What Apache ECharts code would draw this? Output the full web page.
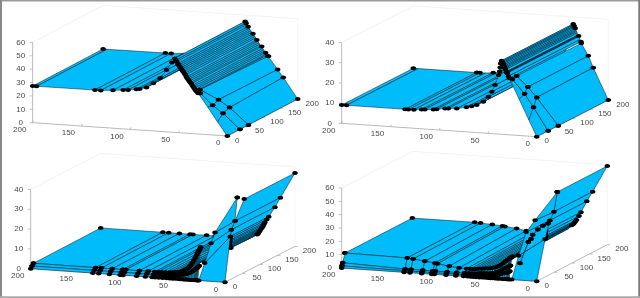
<!DOCTYPE html>
<html><head><meta charset="utf-8">
<script src="https://cdn.jsdelivr.net/npm/echarts@6/dist/echarts.min.js"></script>
<style>html,body{margin:0;background:#fff}#c{width:640px;height:298px;filter:blur(0.55px)}</style></head>
<body><div id="c"></div>
<script>
// tick labels
const xTicks=[0,50,100,150,200], yTicks=[0,50,100,150,200];
const zTicks40=[0,10,20,30,40], zTicks60=[0,10,20,30,40,50,60];

// panel 1 (top left)
const p1X=[200,196,136,130,117.5,107,102,93.5,90,83,76,69,62.5,57,54,53,52,51,50,49,48,47,46,45,44,43,42,41,40,39,38,37,36,35,34,33,32,31,30];
const p1Z=[27.4,27.4,27.6,27.6,28.3,29,29.3,30.2,30.6,32.2,35.6,40,46.2,52,55.3,54,53,51.5,50.5,49.5,48.5,47.5,46.5,45.5,44.5,43.5,42,41,40,39,38,37.3,36,35,34,33,32,31.5,30.5];
const p1BackMarks=[200,136,130,54,53,51,46,42,37,33,30];
const p1TailX=[31,21,14,0], p1TailY=[8,33,45,60], p1TailZ=[32,21.5,14.3,0];
const p1BackX=[30.5,20.6,14.8,0], p1BackZ=[30.5,21,15.4,0];
const p1EdgeX=[30,20,10,0], p1EdgeZ=[30.5,20.5,10,0];
const p1InnerX=[29,20,13,0], p1InnerY=[3.5,14,24,36], p1InnerZ=[30,20,13,0];

// panel 2 (top right)
const p2X=[200,195,135,131.6,126,118,114.7,106,102.6,94,90.6,82,72,66.7,61.5,54.7,49.6,46,42.7,39,38,37.5,37,36,35.5,35,34.5,34,33.5,33,32.5,32,31,30.8,30.6,30.4,30.2,29,28];
const p2Z=[9.1,9.1,9.1,9.1,9.2,9.6,9.7,10,10.2,10.8,11,11.2,12.2,12.9,13.7,15.5,18.2,20.8,24.2,29.3,31,33,35,36.5,36,35.5,35,34.4,33.8,33.3,32.8,32.2,31.2,31,30.8,30.7,30.5,29,28];
const p2BackMarks=[200,135,131.6,118,36,35,34,30.4,28];
const p2TailX=[27.2,20.9,15.1,0], p2TailY=[18,32,41,60], p2TailZ=[27.5,21,15.2,0];
const p2BackX=[27.7,20.5,15.4,0], p2BackZ=[27.2,21.2,15.5,0];
const p2EdgeX=[28,18,8,0], p2EdgeZ=[28,18,8,0];
const p2InnerX=[27,19,12,0], p2InnerY=[6,18,24,32], p2InnerZ=[27,19,12,0];

// panel 3 (bottom left)
const p3X=[200,136,130,119,108,105,91,82,75,72,68,64,60,57,54,51,48,46,44,42.5,41,39.5,38,36.5,35,33.5,32,31,30,29,28];
const p3Row0=[0,0,0,0,0,0,0,0,0,0,0,0,0,0,0,0,0,0,0,0,0,0,0,0,0,0,0,0,0,0,0];
const p3Row4=[1,1,1,1,1,1,1,1,1,1,1,1,1,1.1,1.2,1.3,1.5,1.7,2,2.2,2.5,2.7,3,3.5,4,4.5,5,5.5,6,6.5,7];
const p3Row8=[2,2,2,2,2,2,2,2,2,2,2,2,2.2,2.3,2.5,2.7,3,3.5,4,4.5,5,5.7,6.5,7.7,9,10.5,12,13,14,15,16];
const p3Back=[2.4,2.4,2.4,2.4,2.4,2.4,2.4,2.4,2.5,2.5,2.5,2.5,2.6,2.7,2.8,2.9,3,3.1,3.3,3.6,4,4.6,5.2,6.3,7.5,8.7,10,11,12,12.8,13.5];
const p3BackMarks=[200,136,130,119,108,105,91,82];
const p3RightX=[0,15,20.6,27,29,31,32,33,34,35,36,37,38,39];
const p3RightY=[55,70,75,90,95,100,102,104,106,110,113,116,120,125];
const p3RightZ=[37,24,19,14,12.5,11,10,9,8.2,7.5,6.7,6,5.2,4.6];
const p3LeftX=[27,24.5,22,20,0], p3LeftY=[0,10,21,27,35], p3LeftZ=[0,8,17,22,39.6];
const p3FoldX=[0,27,20.6,15,0], p3FoldY=[0,90,75,70,35], p3FoldZ=[0,14,19,24,39.6];

// panel 4 (bottom right)
const p4X=[200,136,130,118,107.6,105,93,83,75,71,68,65,62,59,56,53,50,47.5,45,42.5,40,37.5,35,33,31,30,29,28];
const p4Row0=[0,0,0,0,0,0,0,0,0,0,0,0,0,0,0,0,0,0,0,0,0,0,0,0,0,0,0,0];
const p4Row1=[1.5,1,1,1,1,1,1,1,1,1,1,1.1,1.2,1.3,1.4,1.5,1.6,1.8,2,2.2,2.5,3.2,4,4.4,4.8,5,5.5,6];
const p4Row3=[3.5,2,2,2,2,2,2,2,2,2,2,2.2,2.4,2.6,2.8,2.9,3,3.2,3.5,4.2,5,6,7,8,8.6,9,9.5,10];
const p4Row9=[10,9.5,9,7.9,7,6.7,5.4,4.6,4.5,4.5,4.5,4.7,5,5.2,5.5,5.7,6,6.5,7,8,9,10.5,12,13.2,14.4,15,15.5,16];
const p4Back=[10,10,9.7,9.3,8.7,8.5,7.6,6.3,6,6,6,6.2,6.5,6.7,7,7.5,8,8.5,9,9.5,10,11.5,13.5,16,18,19,20.5,22];
const p4BackMarks=[200,136,130,118,107.6,105,93,83];
const p4RightX=[0,15,21,27,29,31.6,33,34,35,36.6], p4RightY=[58.5,90,95,100,105,112,115,118,121,125];
const p4RightZ=[59,39,31.5,23,20,17,15.5,14.5,13.5,12.7];
const p4LeftX=[25.6,24,21,15,0], p4LeftY=[0,15,28,37,58.5], p4LeftZ=[0,16,32,40,59];
const p4FoldX=[0,36.6,21,15,0], p4FoldY=[0,125,95,90,58.5], p4FoldZ=[0,12.7,31.5,39,59];
const p4ChainX=[20,18,16,15,12.5,10,21], p4ChainY=[8,26,28,30,38,45,90], p4ChainZ=[11.4,25,27,30,33,35,30];

const BLUE='#00bcfa', INK='#06101a';
const fill=(v,n)=>Array.isArray(v)?v:new Array(n).fill(v);
function sheet(aX,aY,aZ,bX,bY,bZ,o){
  const n=aX.length;
  return Object.assign({aX,aY:fill(aY,n),aZ,bX,bY:fill(bY,n),bZ},o||{});
}
const panels=[
 {grid:[0,0],O:[227.3,136],XE:[32.7,122.7],YE:[297.7,99],zPx:80.3/60,zTicks:zTicks60,
  sheets:[
   sheet(p1X,0,p1Z,p1X,200,p1Z,{markB:p1BackMarks}),
   sheet(p1TailX,p1TailY,p1TailZ,p1BackX,200,p1BackZ),
   sheet(p1EdgeX,0,p1EdgeZ,p1InnerX,p1InnerY,p1InnerZ,{markA:[0]}),
   sheet(p1InnerX,p1InnerY,p1InnerZ,p1TailX,p1TailY,p1TailZ)
  ]},
 {grid:[320,0],O:[216.7,136.7],XE:[21.7,123.3],YE:[288.3,100],zPx:80.7/40,zTicks:zTicks40,
  sheets:[
   sheet(p2X,0,p2Z,p2X,200,p2Z,{markB:p2BackMarks}),
   sheet(p2TailX,p2TailY,p2TailZ,p2BackX,200,p2BackZ),
   sheet(p2EdgeX,0,p2EdgeZ,p2InnerX,p2InnerY,p2InnerZ,{markA:[0]}),
   sheet(p2InnerX,p2InnerY,p2InnerZ,p2TailX,p2TailY,p2TailZ)
  ]},
 {grid:[0,149],O:[225,133.3],XE:[30.7,119.7],YE:[295,97.3],zPx:79.3/40,zTicks:zTicks40,
  sheets:[
   sheet(p3X,8,p3Row8,p3X,200,p3Back,{markB:p3BackMarks}),
   sheet(p3X,4,p3Row4,p3X,8,p3Row8),
   sheet(p3X,0,p3Row0,p3X,4,p3Row4),
   sheet(p3RightX,p3RightY,p3RightZ,p3RightX,200,p3RightZ),
   sheet(p3LeftX,p3LeftY,p3LeftZ,p3FoldX,p3FoldY,p3FoldZ)
  ]},
 {grid:[320,149],O:[216.7,132.3],XE:[21.7,119],YE:[287.3,95.7],zPx:80/60,zTicks:zTicks60,
  sheets:[
   sheet(p4X,9,p4Row9,p4X,200,p4Back,{markB:p4BackMarks}),
   sheet(p4X,3,p4Row3,p4X,9,p4Row9),
   sheet(p4X,1,p4Row1,p4X,3,p4Row3),
   sheet(p4X,0,p4Row0,p4X,1,p4Row1),
   sheet(p4RightX,p4RightY,p4RightZ,p4RightX,200,p4RightZ),
   sheet(p4LeftX,p4LeftY,p4LeftZ,p4FoldX,p4FoldY,p4FoldZ),
   sheet(p4ChainX,p4ChainY,p4ChainZ,p4ChainX,p4ChainY,p4ChainZ)
  ]}
];

function projector(p){
  const ax=(p.XE[0]-p.O[0])/200, ay=(p.XE[1]-p.O[1])/200;
  const bx=(p.YE[0]-p.O[0])/200, by=(p.YE[1]-p.O[1])/200;
  return (X,Y,Z)=>[p.O[0]+ax*X+bx*Y, p.O[1]+ay*X+by*Y-p.zPx*Z];
}
function commands(p){
  const P=projector(p), c=[];
  const maxZ=p.zTicks[p.zTicks.length-1];
  const seg=(a,b,col,w)=>c.push({k:'seg',a,b,col,w});
  const txt=(s,at,align)=>c.push({k:'txt',s:String(s),at,align});
  // faint back of the box
  const top=[P(200,0,maxZ),P(200,200,maxZ),P(0,200,maxZ)];
  seg(top[0],top[1],'#ececec',.7); seg(top[1],top[2],'#ececec',.7);
  seg(P(0,200,0),top[2],'#f2f2f2',.7);
  // axes
  seg(P(200,0,0),P(0,0,0),'#a8a8a8',.8);
  seg(P(0,0,0),P(0,200,0),'#a8a8a8',.8);
  seg(P(200,0,0),P(200,0,maxZ),'#a8a8a8',.8);
  xTicks.forEach(v=>{const a=P(v,0,0);seg(a,[a[0]+.8,a[1]-2],'#a8a8a8',.7);
    txt(v,[a[0]-(v===0?9:13),a[1]+7],'center');});
  yTicks.forEach(v=>{const b=P(0,v,0);seg(b,[b[0]+3,b[1]+.2],'#a8a8a8',.7);
    txt(v,[b[0]+(v===0?10:14.5),b[1]+4.5],'center');});
  p.zTicks.forEach(v=>{const a=P(200,0,v);seg(a,[a[0]-3,a[1]],'#a8a8a8',.7);
    txt(v,[a[0]-12,a[1]],'center');});
  // surface, painted back to front
  p.sheets.forEach(s=>{
    const n=s.aX.length;
    const A=i=>P(s.aX[i],s.aY[i],s.aZ[i]), B=i=>P(s.bX[i],s.bY[i],s.bZ[i]);
    for(let i=0;i<n-1;i++) c.push({k:'poly',pts:[A(i),A(i+1),B(i+1),B(i)]});
    for(let i=0;i<n;i++){
      if(!s.markA||s.markA.includes(s.aX[i])) c.push({k:'dot',at:A(i)});
      if(!s.markB||s.markB.includes(s.bX[i])) c.push({k:'dot',at:B(i)});
    }
  });
  return c;
}
function seriesFor(p,idx){
  const cmds=commands(p);
  return {type:'custom',coordinateSystem:'cartesian2d',xAxisIndex:idx,yAxisIndex:idx,
    silent:true,animation:false,clip:false,encode:{x:0,y:1},
    data:cmds.map((_,i)=>[i,i]),
    renderItem:(params,api)=>{
      const m=cmds[api.value(0)], C=q=>api.coord(q);
      if(m.k==='poly') return {type:'polygon',shape:{points:m.pts.map(C)},
        style:{fill:BLUE,stroke:INK,lineWidth:.5}};
      if(m.k==='seg'){const a=C(m.a),b=C(m.b);
        return {type:'line',shape:{x1:a[0],y1:a[1],x2:b[0],y2:b[1]},style:{stroke:m.col,lineWidth:m.w}};}
      if(m.k==='dot'){const a=C(m.at);
        return {type:'ellipse',shape:{cx:a[0],cy:a[1],rx:2.8,ry:2},style:{fill:'#000'}};}
      const a=C(m.at);
      return {type:'text',style:{text:m.s,x:a[0],y:a[1],fill:'#4a4a4a',align:m.align,verticalAlign:'middle',
        font:'8px "Liberation Sans"'}};
    }};
}
const chart=echarts.init(document.getElementById('c'),null,{renderer:'canvas'});
chart.setOption({
  animation:false,backgroundColor:'#fff',
  grid:panels.map(p=>({left:p.grid[0],top:p.grid[1],width:320,height:149,containLabel:false})),
  xAxis:panels.map((p,i)=>({type:'value',gridIndex:i,min:0,max:320,show:false})),
  yAxis:panels.map((p,i)=>({type:'value',gridIndex:i,min:0,max:149,inverse:true,show:false})),
  series:panels.map(seriesFor),
  graphic:[
    {type:'rect',shape:{x:0,y:0,width:640,height:1.5},style:{fill:'#999'}},
    {type:'rect',shape:{x:0,y:0,width:2,height:298},style:{fill:'#8a8a8a'}},
    {type:'rect',shape:{x:638.3,y:0,width:1.7,height:298},style:{fill:'#777'}},
    {type:'rect',shape:{x:0,y:296.3,width:640,height:1.7},style:{fill:'#aaa'}}
  ]
});
</script></body></html>
